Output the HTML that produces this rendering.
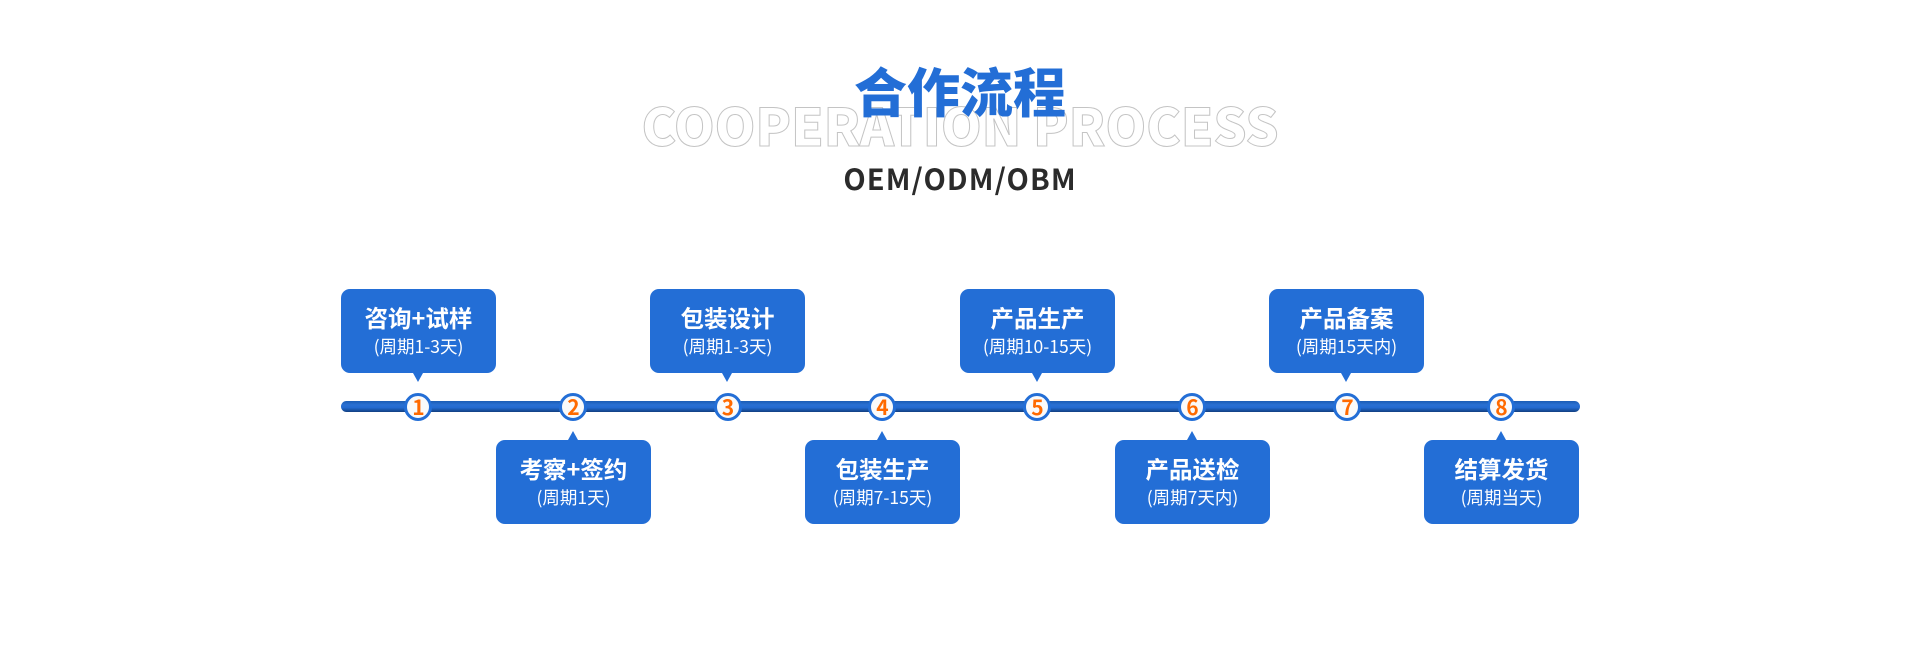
<!DOCTYPE html>
<html lang="zh-CN">
<head>
<meta charset="utf-8">
<style>
html,body{margin:0;padding:0;background:#fff;}
body{width:1920px;height:661px;position:relative;overflow:hidden;font-family:"Noto Sans CJK SC","Liberation Sans",sans-serif;}
.abs{position:absolute;white-space:nowrap;}
#en{left:560px;width:800px;top:89px;line-height:70px;height:70px;text-align:center;font-size:52px;font-weight:900;letter-spacing:-.1px;color:#fff;-webkit-text-stroke:1px #c4c4c4;}
#title{left:760px;width:400px;top:50px;line-height:80px;height:80px;text-align:center;font-size:53px;font-weight:900;color:#236ed6;}
#sub{left:760px;width:400px;top:157px;line-height:42px;height:42px;text-align:center;font-size:29px;font-weight:700;letter-spacing:1.1px;color:#2b2b2b;}
#bar{left:341px;top:401px;width:1239px;height:11px;border-radius:6px;background:linear-gradient(#1b5cb4 0%,#2a70d2 35%,#236ad0 60%,#17509f 85%,#123f80 100%);}
.box{position:absolute;width:155px;height:84px;border-radius:9px;background:#236ed6;color:#fff;text-align:center;}
.box .a{position:absolute;left:0;right:0;top:12px;line-height:32px;font-size:23.5px;font-weight:700;white-space:nowrap;}
.box .b{position:absolute;left:0;right:0;top:45px;line-height:26px;font-size:17.5px;font-weight:400;white-space:nowrap;}
.tail{position:absolute;width:0;height:0;border-left:5.5px solid transparent;border-right:5.5px solid transparent;left:72px;}
.up .tail{top:84px;border-top:9px solid #236ed6;}
.dn .tail{top:-9px;border-bottom:9px solid #236ed6;}
.c{position:absolute;top:392.5px;width:22px;height:22px;border:3px solid #236ed6;border-radius:50%;background:#fafafa;color:#ff6a00;text-align:center;font-size:21px;font-weight:700;line-height:22px;text-indent:1px;}
</style>
</head>
<body>
<div class="abs" id="en">COOPERATION PROCESS</div>
<div class="abs" id="title">合作流程</div>
<div class="abs" id="sub">OEM/ODM/OBM</div>
<div class="abs" id="bar"></div>

<div class="box up" style="left:341px;top:289px"><div class="a">咨询+试样</div><div class="b">(周期1-3天)</div><div class="tail"></div></div>
<div class="box dn" style="left:496px;top:440px"><div class="a">考察+签约</div><div class="b">(周期1天)</div><div class="tail"></div></div>
<div class="box up" style="left:650px;top:289px"><div class="a">包装设计</div><div class="b">(周期1-3天)</div><div class="tail"></div></div>
<div class="box dn" style="left:805px;top:440px"><div class="a">包装生产</div><div class="b">(周期7-15天)</div><div class="tail"></div></div>
<div class="box up" style="left:960px;top:289px"><div class="a">产品生产</div><div class="b">(周期10-15天)</div><div class="tail"></div></div>
<div class="box dn" style="left:1115px;top:440px"><div class="a">产品送检</div><div class="b">(周期7天内)</div><div class="tail"></div></div>
<div class="box up" style="left:1269px;top:289px"><div class="a">产品备案</div><div class="b">(周期15天内)</div><div class="tail"></div></div>
<div class="box dn" style="left:1424px;top:440px"><div class="a">结算发货</div><div class="b">(周期当天)</div><div class="tail"></div></div>

<div class="c" style="left:404px">1</div>
<div class="c" style="left:559px">2</div>
<div class="c" style="left:713.5px">3</div>
<div class="c" style="left:868px">4</div>
<div class="c" style="left:1023px">5</div>
<div class="c" style="left:1178px">6</div>
<div class="c" style="left:1333px">7</div>
<div class="c" style="left:1487px">8</div>
</body>
</html>
